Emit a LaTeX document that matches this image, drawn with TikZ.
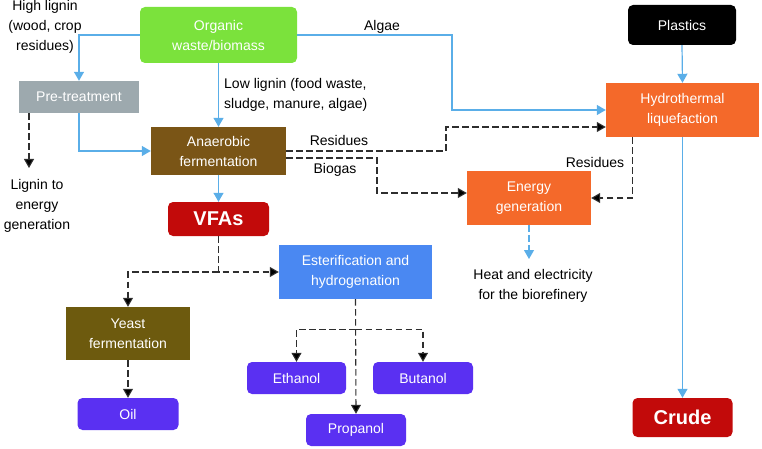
\documentclass[tikz,border=0pt]{standalone}
\usepackage{fontspec}
\setmainfont{Liberation Sans}
\usetikzlibrary{arrows.meta,calc}
\definecolor{cgreen}{HTML}{7BE23C}
\definecolor{cgrey}{HTML}{9DA9AE}
\definecolor{cbrown}{HTML}{7A5516}
\definecolor{colive}{HTML}{6D5A0E}
\definecolor{cred}{HTML}{C20A0A}
\definecolor{cblue}{HTML}{4A88F2}
\definecolor{cpurple}{HTML}{5A30F2}
\definecolor{corange}{HTML}{F4692A}
\definecolor{cline}{HTML}{5AAEE8}
\definecolor{cdash}{HTML}{2E2E2E}
\tikzset{
  box/.style={draw=none,inner sep=0pt,text=white,align=center,font=\fontsize{14}{20}\selectfont},
  rbox/.style={box,rounded corners=5pt},
  lbl/.style={inner sep=0pt,align=center,font=\fontsize{14}{20}\selectfont},
  bl/.style={draw=cline,line width=1.2pt,-{Triangle[length=9pt,width=10pt]}},
  bk/.style={draw=cdash,line width=1.1pt,dash pattern=on 6.5pt off 3.5pt,-{Triangle[length=9pt,width=10pt,fill=black]}},
  bld/.style={draw=cline,line width=1.1pt,dash pattern=on 6.5pt off 3.5pt,-{Triangle[length=9pt,width=10pt]}}
}
\begin{document}
\begin{tikzpicture}[x=1pt,y=-1pt]
\useasboundingbox (0,0) rectangle (762,449);
% boxes
\node[rbox,fill=cgreen,minimum width=157pt,minimum height=56pt] (org) at (218.5,35) {Organic\\waste/biomass};
\node[box,fill=cgrey,minimum width=120pt,minimum height=32pt] (pre) at (79,97) {Pre-treatment};
\node[box,fill=cbrown,minimum width=135pt,minimum height=48pt] (ana) at (218.5,151) {Anaerobic\\fermentation};
\node[rbox,fill=cred,minimum width=101pt,minimum height=34pt,font=\fontsize{20}{24}\selectfont\bfseries] (vfa) at (218.5,219) {VFAs};
\node[box,fill=cblue,minimum width=153pt,minimum height=54pt] (est) at (355.5,272) {Esterification and\\hydrogenation};
\node[box,fill=colive,minimum width=124pt,minimum height=53pt] (yst) at (128,333.5) {Yeast\\fermentation};
\node[rbox,fill=cpurple,minimum width=101pt,minimum height=32pt] (oil) at (128,414) {Oil};
\node[rbox,fill=cpurple,minimum width=99pt,minimum height=32pt] (eth) at (296.5,378) {Ethanol};
\node[rbox,fill=cpurple,minimum width=100pt,minimum height=32pt] (but) at (423,378) {Butanol};
\node[rbox,fill=cpurple,minimum width=100pt,minimum height=32pt] (prp) at (356,430) {Propanol};
\node[rbox,fill=black,minimum width=108pt,minimum height=40pt] (pla) at (682,25) {Plastics};
\node[box,fill=corange,minimum width=153pt,minimum height=54pt] (htl) at (682.5,110) {Hydrothermal\\liquefaction};
\node[box,fill=corange,minimum width=124pt,minimum height=54pt] (en) at (529,198) {Energy\\generation};
\node[rbox,fill=cred,minimum width=100pt,minimum height=39pt,font=\fontsize{20}{24}\selectfont\bfseries] (cru) at (682.5,417.5) {Crude};
% labels
\node[lbl] (hl) at (45,27) {High lignin\\(wood, crop\\residues)};
\node[lbl,align=left,anchor=west] (ll) at (224,95) {Low lignin (food waste,\\sludge, manure, algae)};
\node[lbl] (alg) at (382,27) {Algae};
\node[lbl] (lig) at (37,206) {Lignin to\\energy\\generation};
\node[lbl] (res1) at (339,140) {Residues};
\node[lbl] (bio) at (335,170) {Biogas};
\node[lbl] (res2) at (595,162) {Residues};
\node[lbl] (heat) at (533,286) {Heat and electricity\\for the biorefinery};
\coordinate (ligtop) at (29,168);
\coordinate (heattop) at (529,259);
% blue connectors
\draw[bl] (org.west) -| (pre.north);
\draw[bl] (org.east) -- (452,35) |- (htl.west);
\draw[bl] (org.south) -- (ana.north);
\draw[bl] (pre.south) |- (ana.west);
\draw[bl] (ana.south) -- (vfa.north);
\draw[bl] (pla.south) -- (htl.north);
\draw[bl] (htl.south) -- (cru.north);
\draw[bld] (en.south) -- (heattop);
% black dashed connectors
\draw[bk] (pre.south -| ligtop) -- (ligtop);
\draw[bk] ($(ana.east)+(0,0)$) -- (446,151) |- ($(htl.west)+(0,17)$);
\draw[bk] ($(ana.east)+(0,7)$) -- (377,158) |- ($(en.west)+(0,-5)$);
\draw[bk] ($(htl.south)+(-50,0)$) |- (en.east);
\draw[bk] (vfa.south) |- (est.west);
\draw[bk] (vfa.south |- est.west) -| (yst.north);
\draw[bk] (yst.south) -- (oil.north);
\coordinate (j) at ($(est.south)+(0,30)$);
\draw[bk] (est.south) -- (prp.north);
\draw[bk] (j) -| (eth.north);
\draw[bk] (j) -| (but.north);
\end{tikzpicture}
\end{document}
